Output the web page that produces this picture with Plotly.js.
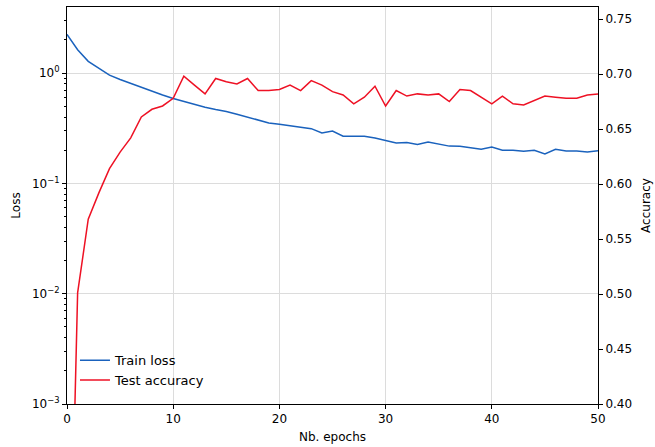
<!DOCTYPE html>
<html><head><meta charset="utf-8">
<script src="https://cdn.plot.ly/plotly-3.0.1.min.js"></script>
<style>html,body{margin:0;padding:0;background:#fff}#c{width:655px;height:447px}</style>
</head><body><div id="c"></div>
<script>
const epochs = Array.from({length: 51}, (_, i) => i);
const trainLoss = [2.25,1.63,1.28,1.10,0.96,0.877,0.806,0.742,0.686,0.635,
  0.589,0.553,0.52,0.49,0.468,0.45,0.424,0.401,0.374,0.354,
  0.344,0.335,0.323,0.314,0.287,0.299,0.268,0.268,0.268,0.258,
  0.246,0.233,0.235,0.226,0.238,0.226,0.218,0.217,0.211,0.204,
  0.214,0.200,0.200,0.196,0.200,0.185,0.204,0.197,0.197,0.193,0.198];
const testAcc = [0.10,0.501,0.568,0.592,0.614,0.629,0.642,0.661,0.668,0.671,
  0.678,0.698,0.690,0.682,0.696,0.693,0.691,0.696,0.685,0.685,
  0.686,0.690,0.685,0.694,0.690,0.684,0.681,0.673,0.679,0.689,
  0.671,0.685,0.680,0.682,0.681,0.682,0.675,0.686,0.685,0.679,
  0.673,0.680,0.673,0.672,0.676,0.680,0.679,0.678,0.678,0.681,0.682];
const lossTicks = [0.001,0.01,0.1,1];
const lossTickText = ['10<sup>−3</sup>','10<sup>−2</sup>','10<sup>−1</sup>','10<sup>0</sup>'];
const accTicks = [0.40,0.45,0.50,0.55,0.60,0.65,0.70,0.75];

const minorVals = [];
[0.001,0.01,0.1,1].forEach(d => { for (let k = 2; k <= 9; k++) minorVals.push(d*k); });

const font = {family: 'DejaVu Sans, sans-serif', size: 12, color: '#000'};
const data = [
  {x: epochs, y: trainLoss, name: 'Train loss', type: 'scatter', mode: 'lines',
   line: {color: '#1a62bd', width: 1.5}, yaxis: 'y'},
  {x: epochs, y: testAcc, name: 'Test accuracy', type: 'scatter', mode: 'lines',
   line: {color: '#ee1124', width: 1.5}, yaxis: 'y2'}
];
const layout = {
  width: 655, height: 447,
  margin: {l: 67, r: 57, t: 7, b: 43},
  paper_bgcolor: '#fff', plot_bgcolor: '#fff',
  font: font,
  showlegend: true,
  legend: {x: 0.015, y: 0.148, xanchor: 'left', yanchor: 'top', bgcolor: 'rgba(0,0,0,0)',
           font: {family: 'DejaVu Sans, sans-serif', size: 13}, tracegroupgap: 0, itemwidth: 30},
  xaxis: {range: [0, 50], tickvals: [0,10,20,30,40,50], showgrid: true, gridcolor: '#dcdcdc',
          zeroline: false, showline: true, linecolor: '#000', linewidth: 1, mirror: true,
          ticks: 'outside', ticklen: 4, tickcolor: '#000',
          title: {text: 'Nb. epochs', font: font, standoff: 7}},
  yaxis: {type: 'log', range: [-3, 0.6], tickvals: lossTicks, ticktext: lossTickText,
          showgrid: true, gridcolor: '#dcdcdc', zeroline: false, showline: true, linecolor: '#000',
          linewidth: 1, ticks: 'outside', ticklen: 4, tickcolor: '#000',
          minor: {tickvals: minorVals, ticks: 'outside', ticklen: 2, tickcolor: '#000', showgrid: false},
          title: {text: 'Loss', font: font, standoff: 8}},
  yaxis2: {overlaying: 'y', side: 'right', range: [0.40, 0.761], tickvals: accTicks, tickformat: '.2f',
           showgrid: false, zeroline: false, showline: true, linecolor: '#000', linewidth: 1,
           ticks: 'outside', ticklen: 4, tickcolor: '#000',
           title: {text: 'Accuracy', font: font, standoff: 10}}
};
Plotly.newPlot('c', data, layout, {staticPlot: true});
</script></body></html>
